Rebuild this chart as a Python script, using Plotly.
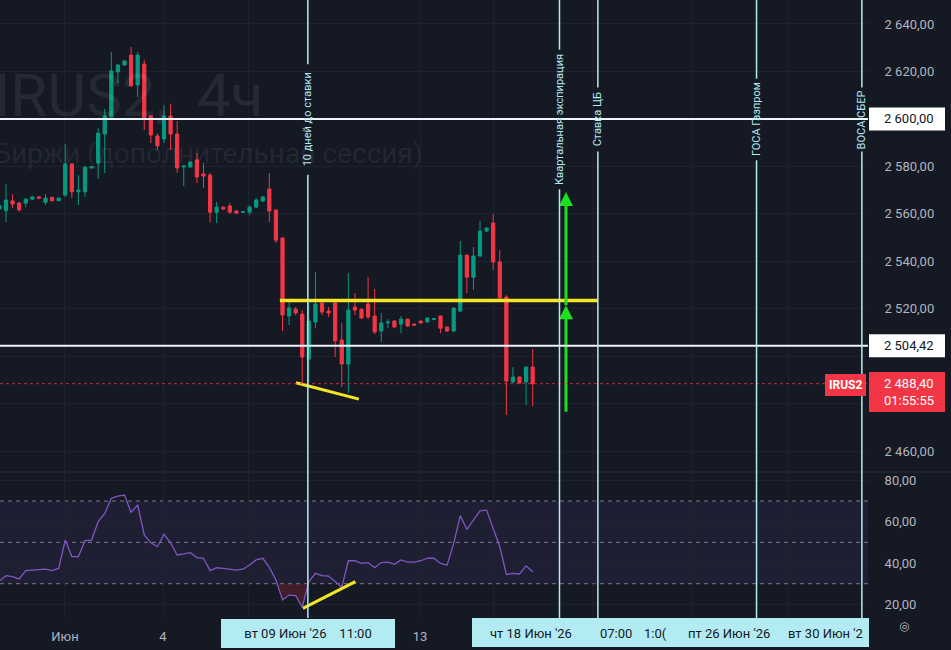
import plotly.graph_objects as go

# ---------------- data ----------------
candle_open = [2562.0, 2561.3, 2565.4, 2564.5, 2564.5, 2566.2, 2567.1, 2564.8, 2566.9, 2565.5,
               2567.9, 2581.0, 2569.3, 2569.3, 2579.3, 2581.4, 2593.6, 2600.8, 2619.8, 2622.7,
               2626.9, 2614.3, 2623.1, 2601.2, 2592.8, 2591.5, 2601.2, 2593.6, 2579.7, 2579.7,
               2582.7, 2576.8, 2576.3, 2560.7, 2562.8, 2563.3, 2561.2, 2560.6, 2560.7, 2562.8,
               2565.4, 2570.4, 2561.6, 2549.8, 2516.9, 2519.8, 2517.7, 2498.8, 2514.4, 2522.4,
               2519.0, 2522.4, 2506.8, 2496.7, 2520.7, 2519.8, 2522.0, 2516.9, 2510.6, 2514.0,
               2514.8, 2513.5, 2515.6, 2513.5, 2514.8, 2514.4, 2515.4, 2516.9, 2512.3, 2510.6,
               2519.0, 2542.6, 2533.3, 2542.2, 2552.7, 2556.1, 2539.7, 2524.9, 2489.1, 2491.2,
               2489.1, 2495.4]
candle_high = [2565.0, 2572.5, 2568.3, 2565.0, 2566.4, 2567.5, 2567.4, 2568.3, 2567.3, 2566.8,
               2589.4, 2581.3, 2576.3, 2580.1, 2580.0, 2596.2, 2604.2, 2628.2, 2622.9, 2624.6,
               2630.3, 2628.2, 2624.8, 2601.4, 2594.0, 2605.9, 2606.3, 2599.1, 2580.6, 2582.0,
               2585.6, 2581.4, 2577.2, 2565.0, 2563.2, 2564.5, 2561.4, 2561.2, 2563.7, 2566.6,
               2567.5, 2577.2, 2561.8, 2550.0, 2522.8, 2520.7, 2519.4, 2522.4, 2535.4, 2522.6,
               2520.7, 2522.6, 2513.9, 2535.0, 2526.6, 2520.0, 2533.3, 2528.3, 2518.2, 2515.6,
               2515.2, 2516.9, 2515.8, 2513.7, 2515.0, 2516.3, 2516.1, 2517.1, 2512.5, 2520.5,
               2548.5, 2542.8, 2546.0, 2557.0, 2554.2, 2559.9, 2544.7, 2525.7, 2495.4, 2491.4,
               2495.6, 2503.0]
candle_low = [2560.0, 2556.5, 2562.4, 2561.0, 2562.8, 2565.8, 2566.2, 2563.7, 2565.2, 2565.3,
              2567.2, 2566.6, 2563.7, 2567.2, 2579.1, 2574.7, 2577.2, 2600.6, 2615.1, 2622.5,
              2613.7, 2609.2, 2595.3, 2589.8, 2586.9, 2589.8, 2586.9, 2577.2, 2571.7, 2579.5,
              2573.0, 2570.9, 2556.5, 2556.1, 2561.6, 2559.9, 2560.0, 2560.3, 2559.4, 2562.4,
              2565.0, 2556.5, 2547.7, 2510.6, 2513.1, 2517.3, 2488.7, 2489.0, 2511.8, 2517.3,
              2516.5, 2499.6, 2486.9, 2484.4, 2517.3, 2515.6, 2515.6, 2509.3, 2506.0, 2511.8,
              2511.8, 2509.7, 2512.3, 2512.8, 2513.7, 2514.2, 2515.2, 2509.7, 2510.2, 2510.2,
              2518.6, 2526.6, 2527.9, 2541.8, 2552.5, 2536.3, 2524.3, 2475.2, 2488.7, 2488.5,
              2479.4, 2479.0]
candle_close = [2563.5, 2565.8, 2564.1, 2561.6, 2566.2, 2567.1, 2566.6, 2566.6, 2565.5, 2566.6,
                2581.0, 2569.3, 2570.0, 2579.6, 2579.8, 2594.0, 2601.2, 2620.2, 2622.7, 2624.4,
                2613.9, 2626.9, 2600.4, 2593.2, 2588.6, 2601.2, 2593.6, 2579.3, 2580.1, 2581.8,
                2575.5, 2575.9, 2560.7, 2562.8, 2562.0, 2560.7, 2560.3, 2560.9, 2562.8, 2565.8,
                2567.1, 2561.2, 2548.9, 2517.3, 2520.3, 2518.2, 2499.6, 2514.8, 2522.0, 2518.6,
                2518.2, 2506.4, 2496.7, 2519.4, 2519.4, 2516.1, 2516.5, 2510.2, 2514.0, 2514.4,
                2512.3, 2515.6, 2512.7, 2513.1, 2514.0, 2516.1, 2515.8, 2511.8, 2510.6, 2520.3,
                2542.6, 2533.3, 2542.2, 2552.7, 2554.0, 2539.7, 2524.5, 2489.5, 2491.2, 2488.7,
                2495.4, 2488.4]
rsi_values = [31.3, 33.9, 33.4, 32.3, 36.3, 36.6, 36.6, 37.0, 36.3, 37.4,
              51.1, 43.1, 43.1, 50.8, 51.1, 60.0, 64.0, 71.3, 72.4, 72.9,
              64.5, 68.1, 53.6, 49.8, 47.9, 53.9, 49.8, 43.9, 44.4, 45.0,
              42.6, 42.3, 36.3, 37.7, 37.4, 37.0, 36.6, 37.0, 39.0, 41.5,
              42.3, 37.9, 31.8, 22.1, 24.5, 24.2, 18.6, 31.0, 35.0, 33.9,
              33.7, 31.0, 28.2, 41.1, 41.1, 39.8, 40.2, 37.7, 40.2, 40.4,
              39.4, 41.5, 40.4, 40.4, 41.1, 42.3, 42.3, 39.8, 39.0, 49.5,
              62.9, 56.3, 60.5, 65.2, 65.6, 56.3, 47.9, 34.5, 35.0, 34.7,
              38.6, 35.8]

price_ticks = [2460, 2480, 2500, 2520, 2540, 2560, 2580, 2600, 2620, 2640]
price_ticks_hidden = [2480, 2500]     # covered by the price-label boxes
rsi_ticks = [20, 40, 60, 80]
rsi_levels = [70, 50, 30]
time_tick_pos = [9.96, 24.85, 37.9, 63.9, 75.1, 90.16, 105.2, 119.8]
time_tick_text = ['Июн', '4', '', '13', '', '', '', '']

level_prices = [2600.00, 2504.42]
last_price = 2488.40
countdown = '01:55:55'
symbol = 'IRUS2'
watermark_1 = 'IRUS2,\u00a0\u00a04ч'
watermark_2 = 'Московской Биржи (дополнительная сессия)'

event_pos = [46.85, 85.07, 90.9, 115.0, 131.0]
event_text = ['10 дней до ставки', 'Квартальная экспирация', 'Ставка ЦБ', 'ГОСА Газпром', 'ВОСА СБЕР']
event_date_1 = "вт 09 Июн '26\u00a0\u00a0\u00a0\u00a011:00"
event_dates_2 = ["чт 18 Июн '26", '07:00', '1:0(', "пт 26 Июн '26", "вт 30 Июн '2"]

yellow_level_x = [42.6, 90.9]
yellow_level_y = 2523.5
price_trend_x = [45.05, 54.6]
price_trend_y = [2488.8, 2481.9]
rsi_trend_x = [46.1, 54.07]
rsi_trend_y = [18.1, 31.0]
arrow_x = 86.06
arrow_levels = [2476.6, 2521.5, 2569.2]

# ---------------- style / geometry ----------------
BG = '#151924'
GRID = '#1e222d'
TXT = '#b2b5be'
UP = '#089981'
DOWN = '#f23645'
CYAN = '#b2ebf2'
YEL = '#f5e625'
GRN = '#1fe01f'
PURPLE = '#7e57c2'
FONT = 'Roboto'

W, H = 951, 650
PW, PH = 868, 618                  # plot area in px
X_RANGE = [0.09, 131.93]
P_RANGE = [2451.6, 2650.1]
P_DOM = [1 - 471 / PH, 1]
R_RANGE = [13.4, 83.55]
R_DOM = [0, 145 / PH]
PPX = (P_RANGE[1] - P_RANGE[0]) / 471.0   # price units per px


def fmt(v):
    s = f'{v:,.2f}'
    return s.replace(',', ' ').replace('.', ',')


def py_paper(px):
    return 1 - px / PH


def px_paper(px):
    return px / PW


idx = list(range(len(candle_open)))

fig = go.Figure()

# RSI below-30 fill
xs, ys = [], []
for i in range(len(rsi_values)):
    if i > 0:
        a, b = rsi_values[i - 1], rsi_values[i]
        if (a - 30) * (b - 30) < 0:
            t = (30 - a) / (b - a)
            xs.append(idx[i - 1] + t)
            ys.append(30)
    xs.append(idx[i])
    ys.append(min(rsi_values[i], 30))
fig.add_trace(go.Scatter(x=xs, y=[30] * len(xs), mode='lines', line=dict(width=0),
                         xaxis='x2', yaxis='y2', hoverinfo='skip'))
fig.add_trace(go.Scatter(x=xs, y=ys, mode='lines', line=dict(width=0), fill='tonexty',
                         fillcolor='rgba(242,54,69,0.2)', xaxis='x2', yaxis='y2', hoverinfo='skip'))
fig.add_trace(go.Scatter(x=idx, y=rsi_values, mode='lines', line=dict(color=PURPLE, width=1.3),
                         xaxis='x2', yaxis='y2', hoverinfo='skip'))

fig.add_trace(go.Candlestick(
    x=idx, open=candle_open, high=candle_high, low=candle_low, close=candle_close,
    increasing=dict(line=dict(color=UP, width=1), fillcolor=UP),
    decreasing=dict(line=dict(color=DOWN, width=1), fillcolor=DOWN),
    whiskerwidth=0, xaxis='x', yaxis='y', hoverinfo='skip'))

# yellow drawings
fig.add_trace(go.Scatter(x=yellow_level_x, y=[yellow_level_y] * 2, mode='lines',
                         line=dict(color=YEL, width=3.5), xaxis='x', yaxis='y', hoverinfo='skip'))
fig.add_trace(go.Scatter(x=price_trend_x, y=price_trend_y, mode='lines',
                         line=dict(color=YEL, width=3), xaxis='x', yaxis='y', hoverinfo='skip'))
fig.add_trace(go.Scatter(x=rsi_trend_x, y=rsi_trend_y, mode='lines',
                         line=dict(color=YEL, width=3), xaxis='x2', yaxis='y2', hoverinfo='skip'))

# green arrows
fig.add_trace(go.Scatter(x=[arrow_x] * 2, y=[arrow_levels[0], arrow_levels[1] - 3], mode='lines',
                         line=dict(color=GRN, width=3), xaxis='x', yaxis='y', hoverinfo='skip'))
fig.add_trace(go.Scatter(x=[arrow_x] * 2, y=[arrow_levels[1], arrow_levels[2] - 3], mode='lines',
                         line=dict(color=GRN, width=3), xaxis='x', yaxis='y', hoverinfo='skip'))
fig.add_trace(go.Scatter(x=[arrow_x] * 2, y=arrow_levels[1:], mode='markers',
                         marker=dict(symbol='arrow-up', size=14, color=GRN, line=dict(width=0)),
                         xaxis='x', yaxis='y', hoverinfo='skip'))

shapes = []
annotations = []

# RSI band and levels
shapes.append(dict(type='rect', xref='paper', x0=0, x1=1, yref='y2', y0=30, y1=70,
                   fillcolor='rgba(126,87,194,0.10)', line=dict(width=0), layer='between'))
for lv in rsi_levels:
    shapes.append(dict(type='line', xref='paper', x0=0, x1=1, yref='y2', y0=lv, y1=lv,
                       line=dict(color='#787b86', width=1, dash='4px,4px'), layer='between'))
# pane separator
shapes.append(dict(type='line', xref='paper', x0=0, x1=1 + 83 / PW, yref='paper',
                   y0=py_paper(472), y1=py_paper(472), line=dict(color='#2a2e39', width=1)))

# white horizontal levels
for lp in level_prices:
    shapes.append(dict(type='line', xref='paper', x0=0, x1=1, yref='y', y0=lp, y1=lp,
                       line=dict(color='#f0f3fa', width=2), layer='above'))
# current price dotted
shapes.append(dict(type='line', xref='paper', x0=0, x1=1, yref='y', y0=last_price, y1=last_price,
                   line=dict(color='rgba(242,54,69,0.75)', width=1, dash='dot'), layer='above'))

# event vertical lines with gap for label
LBL_C = 119.5
for pos, txt in zip(event_pos, event_text):
    hl = len(txt) * 2.9 + 6
    shapes.append(dict(type='line', xref='x', x0=pos, x1=pos, yref='paper',
                       y0=py_paper(LBL_C - hl), y1=1, line=dict(color=CYAN, width=1.5), layer='above'))
    shapes.append(dict(type='line', xref='x', x0=pos, x1=pos, yref='paper',
                       y0=0, y1=py_paper(LBL_C + hl), line=dict(color=CYAN, width=1.5), layer='above'))
    annotations.append(dict(x=pos, xref='x', y=py_paper(LBL_C), yref='paper', text=txt,
                            textangle=-90, showarrow=False, font=dict(family=FONT, size=11, color=CYAN),
                            xanchor='center', yanchor='middle'))

# watermark
annotations.append(dict(x=px_paper(265), xref='paper', y=py_paper(96), yref='paper', text=watermark_1,
                        showarrow=False, xanchor='right', yanchor='middle',
                        font=dict(family=FONT, size=60, color='rgba(255,255,255,0.07)')))
annotations.append(dict(x=px_paper(425), xref='paper', y=py_paper(153), yref='paper', text=watermark_2,
                        showarrow=False, xanchor='right', yanchor='middle',
                        font=dict(family=FONT, size=28, color='rgba(255,255,255,0.07)')))

# right axis label boxes
AX0 = px_paper(869)
AX1 = px_paper(945)
TXT_X = px_paper(884)
for lp in level_prices:
    shapes.append(dict(type='rect', xref='paper', x0=AX0, x1=AX1, yref='y',
                       y0=lp - 11.5 * PPX, y1=lp + 11.5 * PPX, fillcolor='#ffffff',
                       line=dict(width=0), layer='above'))
    annotations.append(dict(x=TXT_X, xref='paper', y=lp, yref='y', text=fmt(lp), showarrow=False,
                            xanchor='left', yanchor='middle', borderpad=0, borderwidth=0,
                            font=dict(family=FONT, size=13, color='#131722')))
shapes.append(dict(type='rect', xref='paper', x0=AX0, x1=AX1, yref='y',
                   y0=last_price - 28.4 * PPX, y1=last_price + 11.6 * PPX, fillcolor=DOWN,
                   line=dict(width=0), layer='above'))
annotations.append(dict(x=TXT_X, xref='paper', y=last_price - 8.4 * PPX, yref='y',
                        text=fmt(last_price) + '<br>' + countdown, showarrow=False,
                        xanchor='left', yanchor='middle', align='left', borderpad=0, borderwidth=0,
                        font=dict(family=FONT, size=13, color='#ffffff')))
annotations.append(dict(x=px_paper(866), xref='paper', y=last_price - 1.5 * PPX, yref='y', text='<b>' + symbol + '</b>',
                        showarrow=False, xanchor='right', yanchor='middle', bgcolor=DOWN, borderpad=4,
                        borderwidth=0, font=dict(family=FONT, size=12, color='#ffffff')))

# time axis event boxes
annotations.append(dict(x=event_pos[0], xref='x', y=py_paper(633), yref='paper', text=event_date_1,
                        showarrow=False, xanchor='center', yanchor='middle', bgcolor=CYAN,
                        width=168, height=23, borderpad=3, borderwidth=0,
                        font=dict(family=FONT, size=13, color='#131722')))
shapes.append(dict(type='rect', xref='paper', x0=px_paper(472), x1=px_paper(869), yref='paper',
                   y0=py_paper(647), y1=py_paper(618), fillcolor=CYAN, line=dict(width=0), layer='above'))
for cx, t, anc in zip([531, 616, 655, 729, 786], event_dates_2, ['center'] * 4 + ['left']):
    annotations.append(dict(x=px_paper(cx), xref='paper', y=py_paper(633), yref='paper', text=t,
                            showarrow=False, xanchor=anc, yanchor='middle',
                            font=dict(family=FONT, size=13, color='#131722')))
annotations.append(dict(x=px_paper(911), xref='paper', y=py_paper(635), yref='paper', text='◎',
                        showarrow=False, font=dict(family='DejaVu Sans', size=12, color=TXT)))

axis_common = dict(zeroline=False, showline=False, gridcolor=GRID, gridwidth=1)

fig.update_layout(
    width=W, height=H, margin=dict(l=0, r=W - PW, t=0, b=H - PH),
    paper_bgcolor=BG, plot_bgcolor=BG, showlegend=False,
    font=dict(family=FONT, color=TXT, size=13),
    xaxis=dict(domain=[0, 1], range=X_RANGE, anchor='y', tickmode='array', tickvals=time_tick_pos,
               showticklabels=False, showgrid=True, rangeslider=dict(visible=False), **axis_common),
    xaxis2=dict(domain=[0, 1], range=X_RANGE, anchor='y2', matches='x', tickmode='array',
                tickvals=time_tick_pos, ticktext=time_tick_text, showticklabels=True, showgrid=True,
                ticks='outside', ticklen=6, tickcolor=BG,
                tickfont=dict(family=FONT, size=13, color=TXT), **axis_common),
    yaxis=dict(domain=P_DOM, range=P_RANGE, anchor='x', side='right', tickmode='array',
               tickvals=price_ticks,
               ticktext=['' if v in price_ticks_hidden else fmt(v) for v in price_ticks],
               showgrid=True, ticks='outside', ticklen=13, tickcolor=BG,
               tickfont=dict(family=FONT, size=13, color=TXT), **axis_common),
    yaxis2=dict(domain=R_DOM, range=R_RANGE, anchor='x2', side='right', tickmode='array',
                tickvals=rsi_ticks, ticktext=[fmt(v) for v in rsi_ticks], showgrid=True,
                ticks='outside', ticklen=13, tickcolor=BG,
                tickfont=dict(family=FONT, size=13, color=TXT), **axis_common),
    shapes=shapes, annotations=annotations,
)

fig.write_html('out.html')
